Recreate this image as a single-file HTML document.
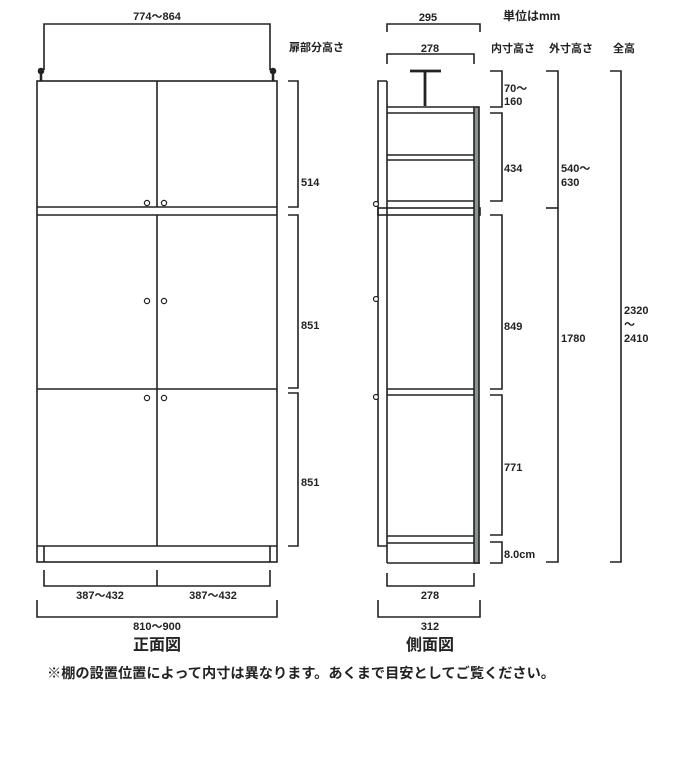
<!DOCTYPE html>
<html><head><meta charset="utf-8"><style>
html,body{margin:0;padding:0;background:#fff}
svg{display:block}
text{font-family:"Liberation Sans","Noto Sans CJK JP",sans-serif;fill:#222;font-weight:bold}
.t{font-size:11px}
</style></head><body>
<svg width="700" height="771" viewBox="0 0 700 771" xmlns="http://www.w3.org/2000/svg">
<g fill="none" stroke="#222" stroke-width="1.6">
<!-- FRONT -->
<polyline points="44,70 44,24 270,24 270,70"/>
<line x1="41" y1="81" x2="41" y2="72" stroke-width="2.5"/>
<line x1="273" y1="81" x2="273" y2="72" stroke-width="2.5"/>
<circle cx="41" cy="71" r="2.5" fill="#222"/>
<circle cx="273" cy="71" r="2.5" fill="#222"/>
<rect x="37" y="81" width="240" height="481"/>
<line x1="37" y1="207" x2="277" y2="207"/>
<line x1="37" y1="215" x2="277" y2="215"/>
<line x1="37" y1="389" x2="277" y2="389"/>
<line x1="37" y1="546" x2="277" y2="546"/>
<line x1="157" y1="81" x2="157" y2="207"/>
<line x1="157" y1="215" x2="157" y2="546"/>
<line x1="44" y1="546" x2="44" y2="562"/>
<line x1="270" y1="546" x2="270" y2="562"/>
<g stroke-width="1.2">
<circle cx="147" cy="203" r="2.6"/><circle cx="164" cy="203" r="2.6"/>
<circle cx="147" cy="301" r="2.6"/><circle cx="164" cy="301" r="2.6"/>
<circle cx="147" cy="398" r="2.6"/><circle cx="164" cy="398" r="2.6"/>
</g>
<polyline points="288,81 298,81 298,207 288,207"/>
<polyline points="288,215 298,215 298,388 288,388"/>
<polyline points="288,393 298,393 298,546 288,546"/>
<polyline points="44,570 44,586 270,586 270,570"/>
<line x1="157" y1="570" x2="157" y2="586"/>
<polyline points="37,600 37,617 277,617 277,600"/>
<!-- SIDE -->
<polyline points="387,32 387,24 480,24 480,32"/>
<polyline points="387,64 387,54 474,54 474,64"/>
<line x1="410" y1="71" x2="441" y2="71" stroke-width="2.8"/>
<line x1="425" y1="71" x2="425" y2="106" stroke-width="2.8"/>
<polyline points="387,546 378,546 378,81 387,81"/>
<line x1="387" y1="81" x2="387" y2="563"/>
<line x1="387" y1="107" x2="474" y2="107"/>
<line x1="387" y1="113" x2="474" y2="113"/>
<line x1="387" y1="155" x2="474" y2="155"/>
<line x1="387" y1="160" x2="474" y2="160"/>
<line x1="387" y1="201" x2="474" y2="201"/>
<rect x="378" y="208" width="102" height="7"/>
<line x1="387" y1="389" x2="474" y2="389"/>
<line x1="387" y1="395" x2="474" y2="395"/>
<line x1="387" y1="536" x2="474" y2="536"/>
<line x1="387" y1="543" x2="474" y2="543"/>
<line x1="387" y1="563" x2="480" y2="563"/>
<rect x="474" y="107" width="5" height="456" fill="#8a9494"/>
<g stroke-width="1.2">
<circle cx="376" cy="204" r="2.5" fill="#fff"/>
<circle cx="376" cy="299" r="2.5" fill="#fff"/>
<circle cx="376" cy="397" r="2.5" fill="#fff"/>
</g>
<polyline points="387,573 387,586 474,586 474,573"/>
<polyline points="378,600 378,617 480,617 480,600"/>
<!-- right dims -->
<polyline points="490,71 502,71 502,107 490,107"/>
<polyline points="490,113 502,113 502,201 490,201"/>
<polyline points="490,215 502,215 502,389 490,389"/>
<polyline points="490,395 502,395 502,535 490,535"/>
<polyline points="490,542 502,542 502,563 490,563"/>
<polyline points="546,71 558,71 558,562 546,562"/>
<line x1="546" y1="208" x2="558" y2="208"/>
<polyline points="610,71 621,71 621,562 610,562"/>
</g>
<!-- labels -->
<text x="157" y="20" class="t" text-anchor="middle">774～864</text>
<text x="289" y="51" class="t">扉部分高さ</text>
<text x="301" y="186" class="t">514</text>
<text x="301" y="329" class="t">851</text>
<text x="301" y="486" class="t">851</text>
<text x="100" y="599" class="t" text-anchor="middle">387～432</text>
<text x="213" y="599" class="t" text-anchor="middle">387～432</text>
<text x="157" y="630" class="t" text-anchor="middle">810～900</text>
<text x="157" y="650" font-size="16" text-anchor="middle">正面図</text>
<text x="428" y="21" class="t" text-anchor="middle">295</text>
<text x="430" y="52" class="t" text-anchor="middle">278</text>
<text x="503" y="20" font-size="12">単位はmm</text>
<text x="491" y="52" class="t">内寸高さ</text>
<text x="549" y="52" class="t">外寸高さ</text>
<text x="613" y="52" class="t">全高</text>
<text x="504" y="92" class="t">70～</text>
<text x="504" y="105" class="t">160</text>
<text x="504" y="172" class="t">434</text>
<text x="561" y="172" class="t">540～</text>
<text x="561" y="186" class="t">630</text>
<text x="504" y="330" class="t">849</text>
<text x="561" y="342" class="t">1780</text>
<text x="624" y="314" class="t">2320</text>
<text x="624" y="328" class="t">～</text>
<text x="624" y="342" class="t">2410</text>
<text x="504" y="471" class="t">771</text>
<text x="504" y="558" class="t">8.0cm</text>
<text x="430" y="599" class="t" text-anchor="middle">278</text>
<text x="430" y="630" class="t" text-anchor="middle">312</text>
<text x="430" y="650" font-size="16" text-anchor="middle">側面図</text>
<text x="47" y="678" font-size="14" textLength="508" lengthAdjust="spacingAndGlyphs">※棚の設置位置によって内寸は異なります。あくまで目安としてご覧ください。</text>
</svg>
</body></html>
